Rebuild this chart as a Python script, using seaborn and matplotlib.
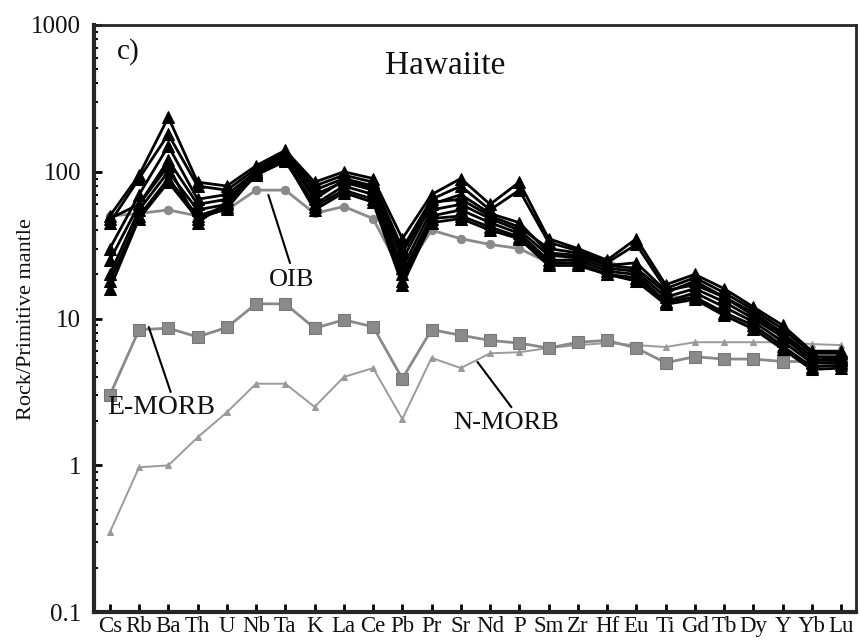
"""Primitive-mantle normalised spider diagram, Hawaiite samples."""

import matplotlib.pyplot as plt
import numpy as np
import pandas as pd
import seaborn as sns
from matplotlib.ticker import LogLocator, NullFormatter, FixedLocator

elements = ["Cs", "Rb", "Ba", "Th", "U", "Nb", "Ta", "K", "La", "Ce", "Pb", "Pr", "Sr",
            "Nd", "P", "Sm", "Zr", "Hf", "Eu", "Ti", "Gd", "Tb", "Dy", "Y", "Yb", "Lu"]

# reference compositions
oib = [50, 52, 55, 50, 55, 75, 75, 52, 58, 48, 20, 40, 35, 32, 30, 24, 26, 25, 20, 14, 14, 11, 8.5, 7.0, 5.0, 4.8]
e_morb = [3.0, 8.4, 8.6, 7.5, 8.7, 12.6, 12.6, 8.6, 9.8, 8.8, 3.9, 8.4, 7.7, 7.1, 6.8, 6.3, 6.9, 7.1, 6.3,
          5.0, 5.5, 5.3, 5.3, 5.1, 5.1, 5.1]
n_morb = [0.35, 0.97, 1.0, 1.55, 2.3, 3.6, 3.6, 2.5, 4.0, 4.6, 2.07, 5.4, 4.6, 5.8, 5.9, 6.3, 6.6, 6.8,
          6.6, 6.4, 6.9, 6.9, 6.9, 6.9, 6.7, 6.6]

# hawaiite samples
s1 = [50, 95, 235, 85, 80, 110, 140, 85, 100, 90, 35, 70, 90, 60, 85, 35, 30, 25, 35, 17, 20, 16, 12, 9.0, 6.0, 6.0]
s2 = [45, 90, 180, 80, 75, 105, 135, 80, 95, 85, 30, 65, 80, 55, 75, 33, 29, 24, 32, 16, 19, 15, 11.5, 8.5, 5.8, 5.8]
s3 = [30, 70, 150, 65, 70, 100, 130, 75, 90, 80, 25, 60, 70, 52, 45, 28, 27, 23, 22, 15, 18, 14, 11, 8.0, 5.5, 5.5]
s4 = [25, 60, 120, 60, 65, 100, 125, 70, 85, 75, 22, 55, 60, 48, 40, 27, 26, 22, 21, 14, 16, 13, 10, 7.5, 5.2, 5.2]
s5 = [20, 55, 100, 55, 60, 95, 120, 60, 80, 70, 20, 50, 55, 45, 38, 25, 25, 21, 20, 13, 15, 12, 9.5, 7.0, 5.0, 5.0]
s6 = [18, 50, 90, 50, 58, 95, 118, 58, 75, 65, 18, 48, 50, 42, 36, 24, 24, 20, 19, 13, 14, 11, 9.0, 6.5, 4.7, 4.8]
s7 = [16, 48, 85, 48, 56, 98, 122, 55, 72, 62, 17, 45, 48, 40, 35, 23, 23, 20, 18, 12.5, 13.5, 10.5, 8.5, 6.2, 4.5, 4.6]
s8 = [48, 60, 110, 45, 62, 102, 128, 65, 88, 78, 28, 62, 65, 50, 42, 30, 28, 23, 24, 15.5, 17, 14, 10.5, 7.8, 5.5, 5.3]
samples = [s1, s2, s3, s4, s5, s6, s7, s8]
y_ticks = [0.1, 1, 10, 100, 1000]
y_tick_labels = ["0.1", "1", "10", "100", "1000"]

# series labels: (text, leader start, leader end, text position) in data units
labels = [
    ("OIB", (5.42, 69.5), (6.16, 23.9), (6.23, 18.3), 19),
    ("E-MORB", (1.33, 8.75), (2.08, 3.16), (1.74, 2.49), 20),
    ("N-MORB", (12.57, 5.06), (13.73, 2.49), (13.56, 1.94), 19),
]

sns.set_style("ticks")
plt.rcParams["font.family"] = ["Liberation Serif", "DejaVu Serif"]
plt.rcParams["text.color"] = "#111111"
plt.rcParams["axes.labelcolor"] = "#111111"
plt.rcParams["xtick.color"] = "black"
plt.rcParams["ytick.color"] = "black"
plt.rcParams["xtick.labelcolor"] = "#111111"
plt.rcParams["ytick.labelcolor"] = "#111111"

pos = np.arange(len(elements))
df = pd.DataFrame(
    [(i, pos[j], v) for i, s in enumerate(samples) for j, v in enumerate(s)],
    columns=["sample", "pos", "value"],
)

fig = plt.figure(figsize=(8.6, 6.41), dpi=100)
ax = fig.add_axes([0.109, 0.045, 0.886, 0.916])

gray = "#8a8a8a"
sns.lineplot(x=pos, y=n_morb, ax=ax, color="#9a9a9a", lw=1.4, marker="^", markersize=4,
             markeredgecolor="#9a9a9a", zorder=2)
sns.lineplot(x=pos, y=e_morb, ax=ax, color=gray, lw=2, marker="s", markersize=8,
             markerfacecolor=gray, markeredgecolor="#777777", zorder=2)
sns.lineplot(x=pos, y=oib, ax=ax, color=gray, lw=2, marker="o", markersize=6,
             markeredgecolor=gray, zorder=2)

sns.lineplot(data=df, x="pos", y="value", units="sample", estimator=None, ax=ax,
             color="black", lw=2, marker="^", markersize=8, markeredgecolor="black", zorder=3)

ax.set_yscale("log")
ax.set_ylim(0.1, 1000)
ax.set_xlim(-0.55, 25.5)
ax.set_xticks(pos)
ax.set_xticklabels(elements, fontsize=16.5)
ax.yaxis.set_major_locator(FixedLocator(y_ticks))
ax.set_yticklabels(y_tick_labels, fontsize=18)
ax.yaxis.set_minor_locator(LogLocator(base=10, subs=np.arange(2, 10)))
ax.yaxis.set_minor_formatter(NullFormatter())
ax.tick_params(axis="x", which="major", direction="in", length=6, width=2, pad=3)
ax.tick_params(axis="y", which="major", direction="in", length=6, width=2, pad=9)
ax.tick_params(axis="y", which="minor", direction="in", length=3, width=1.5)
ax.tick_params(top=False, right=False)
ax.set_xlabel("")
ax.set_ylabel("Rock/Primitive mantle", fontsize=16)
ax.yaxis.set_label_coords(-0.076, 0.5)
for side in ["left", "bottom"]:
    ax.spines[side].set_linewidth(3)
for side in ["top", "right"]:
    ax.spines[side].set_linewidth(2)

# labels and leader lines
for text, start, end, tpos, size in labels:
    ax.plot([start[0], end[0]], [start[1], end[1]], color="black", lw=1.5, zorder=4)
    ax.text(tpos[0], tpos[1], text, fontsize=size, ha="center", va="center")
ax.text(0.045, 0.954, "c)", transform=ax.transAxes, fontsize=21, ha="center", va="center")
ax.text(0.461, 0.93, "Hawaiite", transform=ax.transAxes, fontsize=24, ha="center", va="center")

fig.savefig("out.png", dpi=100)
